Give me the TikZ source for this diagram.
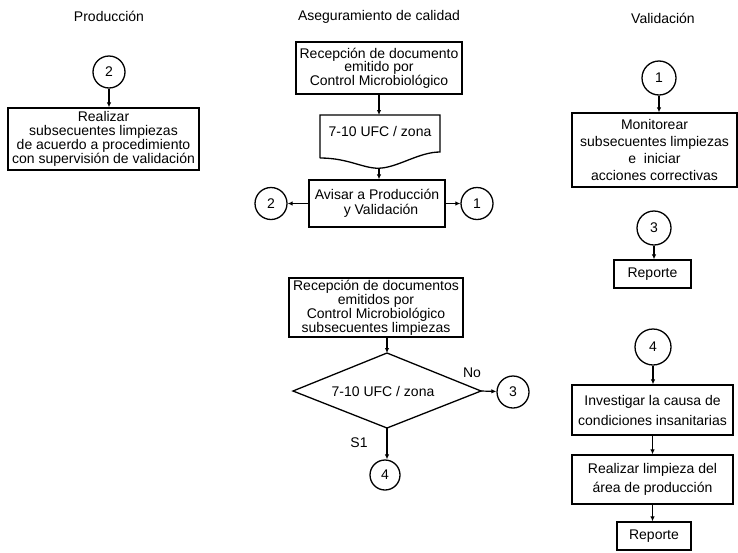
\documentclass[tikz,border=0pt]{standalone}
\usepackage{fontspec}
\setmainfont{Liberation Sans}
\usetikzlibrary{arrows.meta}
\begin{document}
\begin{tikzpicture}[x=1pt,y=-1pt,
  every node/.style={font=\fontsize{14}{14}\selectfont},
  box/.style={draw, line width=1.3pt, align=center, inner sep=0pt},
  conn/.style={draw, circle, line width=1.3pt, minimum size=32pt, inner sep=0pt},
  arr/.style={line width=1.2pt, -{Latex[length=5pt,width=4.5pt]}},
  lbl/.style={inner sep=0pt}
]
\useasboundingbox (0,0) rectangle (738,552);
% headers
\node[lbl] (hP) at (109,16) {Producción};
\node[lbl] (hA) at (379,17) {Aseguramiento de calidad};
\node[lbl] (hV) at (663,18) {Validación};

% Produccion
\node[conn] (cP2) at (109,72) {2};
\node[box, minimum width=191pt, minimum height=62pt, font=\fontsize{14}{14}\selectfont] (bP) at (103.5,139)
  {Realizar\\subsecuentes limpiezas\\de acuerdo a procedimiento\\con supervisión de validación};
\draw[arr] (cP2) -- (cP2 |- bP.north);

% Aseguramiento
\node[box, minimum width=166pt, minimum height=52pt, font=\fontsize{14}{13.5}\selectfont] (bA1) at (379,68)
  {Recepción de documento\\emitido por\\Control Microbiológico};
\node[lbl] (doc) at (380,131) {7-10 UFC / zona};
\coordinate (docT) at (379,115);
\coordinate (docB) at (379,168);
\draw[line width=1.3pt] (320,158) -- (320,115) -- (440,115) -- (440,152)
  .. controls (420,152) and (400,166) .. (382,168)
  .. controls (365,170) and (350,158) .. (320,158);
\draw[arr] (bA1.south -| docT) -- (docT);
\node[box, minimum width=136pt, minimum height=47pt, font=\fontsize{14}{15}\selectfont] (bA2) at (377,203.5)
  {Avisar a Producción\\\hspace*{8pt}y Validación};
\draw[arr] (docB) -- (docB |- bA2.north);
\node[conn] (cA2) at (271,203.5) {2};
\node[conn] (cA1) at (477,203.5) {1};
\draw[arr] (bA2) -- (cA2);
\draw[arr] (bA2) -- (cA1);

\node[box, minimum width=174pt, minimum height=59pt, font=\fontsize{14}{13}\selectfont] (bA3) at (376,307.5)
  {Recepción de documentos\\emitidos por\\Control Microbiológico\\subsecuentes limpiezas};
\coordinate (dT) at (387,353);
\coordinate (dR) at (481,391);
\coordinate (dB) at (387,428);
\coordinate (dL) at (293,391);
\draw[line width=1.3pt] (dT) -- (dR) -- (dB) -- (dL) -- cycle;
\node[lbl] (dtext) at (383,391) {7-10 UFC / zona};
\draw[arr] (bA3.south -| dT) -- (dT);
\node[conn] (cA3) at (513,392) {3};
\draw[arr] (dR) -- (cA3);
\node[lbl] (no) at (472,373) {No};
\node[conn, minimum size=30pt] (cA4) at (385,475) {4};
\draw[arr] (dB) -- (dB |- cA4.north);
\node[lbl] (si) at (359,443) {S1};

% Validacion
\node[conn, minimum size=34pt] (cV1) at (659,78) {1};
\node[box, minimum width=165pt, minimum height=74pt, font=\fontsize{14}{16.7}\selectfont] (bV1) at (654.5,150)
  {Monitorear\\subsecuentes limpiezas\\e\ \ iniciar\\acciones correctivas};
\draw[arr] (cV1) -- (cV1 |- bV1.north);
\node[conn, minimum size=34pt] (cV3) at (654,228) {3};
\node[box, minimum width=77pt, minimum height=28pt] (bV2) at (652.5,274) {Reporte};
\draw[arr] (cV3) -- (cV3 |- bV2.north);
\node[conn, minimum size=36pt] (cV4) at (653,347) {4};
\node[box, minimum width=161pt, minimum height=50pt, font=\fontsize{14}{20}\selectfont] (bV3) at (652.5,410)
  {Investigar la causa de\\condiciones insanitarias};
\draw[arr] (cV4) -- (cV4 |- bV3.north);
\node[box, minimum width=161pt, minimum height=49pt, font=\fontsize{14}{19}\selectfont] (bV4) at (652.5,479.5)
  {Realizar limpieza del\\área de producción};
\draw[arr] (bV3) -- (bV4);
\node[box, minimum width=74pt, minimum height=28pt] (bV5) at (654,536) {Reporte};
\draw[arr] (bV4) -- (bV4 |- bV5.north);
\end{tikzpicture}
\end{document}
